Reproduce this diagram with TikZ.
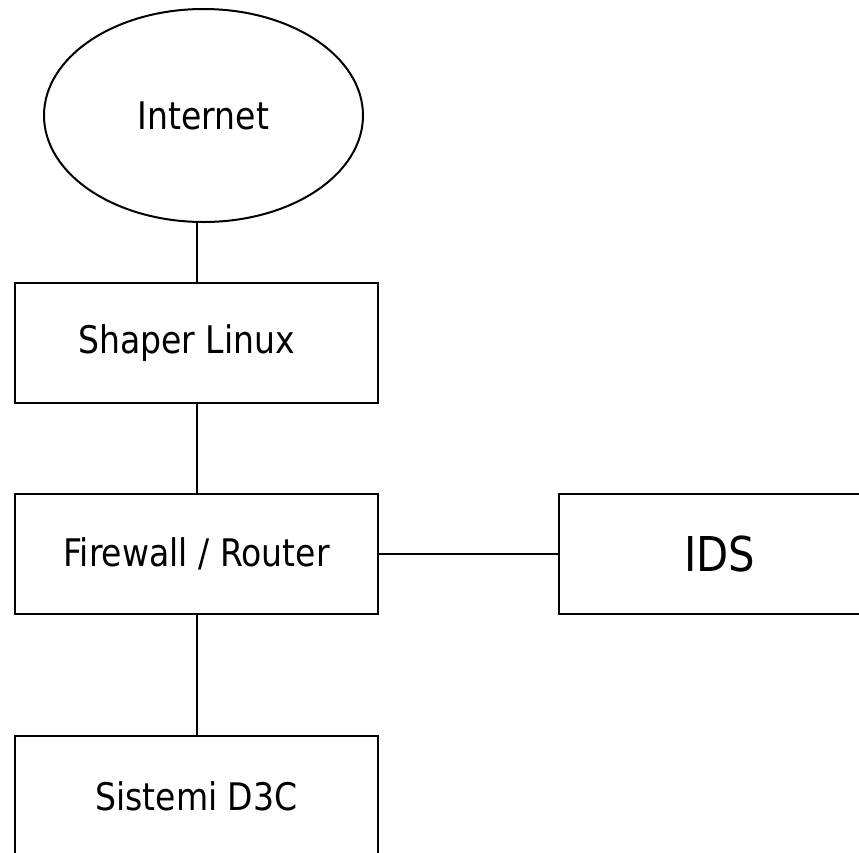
\documentclass[tikz,border=0pt]{standalone}
\usepackage{fontspec}
\setmainfont{DejaVu Sans}[FakeStretch=0.87]
\usetikzlibrary{shapes}
\tikzstyle{cloud} = [ellipse, draw, line width=2pt,
    minimum width=319pt, minimum height=213pt, inner sep=0pt]
\tikzstyle{block} = [rectangle, draw, line width=2pt,
    minimum width=363pt, minimum height=120pt, inner sep=0pt]
\tikzstyle{line} = [draw, line width=2pt]

\begin{document}
\begin{tikzpicture}[node distance = 211pt, font=\fontsize{38}{44}\selectfont]
    \useasboundingbox (0,0) rectangle (859pt,-852pt);
    % Place nodes
    \node [block] (firewall) at (196.5pt,-554pt) {Firewall / Router};
    \node [block, above of=firewall] (shaper) {Shaper Linux\kern20pt};
    \node [cloud, above of=shaper, node distance=227.5pt, xshift=7pt] (internet) {Internet};
    \node [block, right of=firewall, node distance=544pt,
        font=\fontsize{48}{56}\selectfont] (ids) {\raisebox{-7pt}{IDS}\kern42pt};
    \node [block, below of=firewall, node distance=242pt] (sistemi) {Sistemi D3C};

    \path [line] (internet.south -| shaper.north) -- (shaper.north);
    \path [line] (shaper) -- (firewall);
    \path [line] (firewall) -- (ids);
    \path [line] (firewall) -- (sistemi);
\end{tikzpicture}
\end{document}
